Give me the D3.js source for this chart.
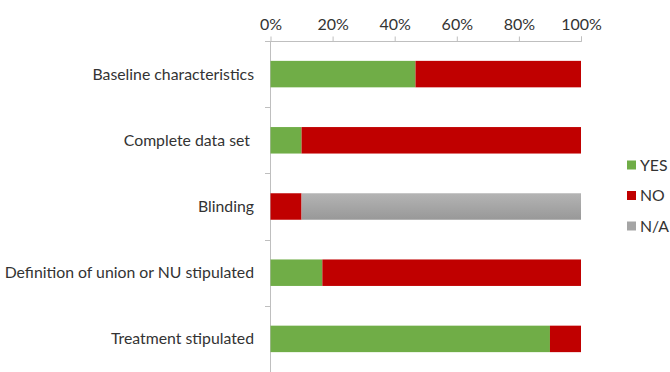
<!DOCTYPE html>
<html lang="en">
<head>
	<meta charset="utf-8">
	<title>Study quality</title>
	<script src="https://d3js.org/d3.v7.min.js"></script>
	<style>
		body { margin: 0; background: #fff; }
		text { font-family: Lato, "Open Sans", sans-serif; fill: #333; }
	</style>
</head>
<body>
	<script>
		var categories = ["Baseline characteristics", "Complete data set ", "Blinding",
			"Definition of union or NU stipulated", "Treatment stipulated"];
		var seriesNames = ["YES", "NO", "N/A"];
		var yesValues = [46.7, 10, 0, 16.7, 90];
		var noValues = [53.3, 90, 10, 83.3, 10];
		var naValues = [0, 0, 90, 0, 0];
		var tickValues = [0, 20, 40, 60, 80, 100];
		var colors = ["#70ad47", "#c00000", "#a5a5a5"];

		var width = 670;
		var height = 372;

		var svg = d3.select("body")
			.append("svg")
			.attr("width", width)
			.attr("height", height);

		// gradient for the grey N/A bar
		var grad = svg.append("defs").append("linearGradient")
			.attr("id", "gray")
			.attr("x1", 0).attr("y1", 0).attr("x2", 0).attr("y2", 1);
		grad.append("stop").attr("offset", "0%").attr("stop-color", "#b4b4b4");
		grad.append("stop").attr("offset", "100%").attr("stop-color", "#989898");

		var rows = categories.map(function(c, i) {
			return { cat: c, YES: yesValues[i], NO: noValues[i], "N/A": naValues[i] };
		});
		var stacked = d3.stack().keys(seriesNames)(rows);

		var x = d3.scaleLinear().domain([0, 100]).range([270.5, 581]);
		var y = d3.scaleBand().domain(categories).range([41, 372]).paddingInner(0.6).paddingOuter(0.3);

		// top axis
		var xAxis = svg.append("g")
			.attr("transform", "translate(0,41.5)")
			.call(d3.axisTop(x).tickValues(tickValues).tickSize(5).tickFormat(function(d) { return d + "%"; }));
		xAxis.select(".domain").attr("stroke", "#bfbfbf").attr("d", "M265,0H581.5V-5");
		xAxis.selectAll(".tick line").attr("stroke", "#bfbfbf");
		xAxis.selectAll(".tick text").attr("font-size", 16).attr("dy", "-4px").style("fill", "#333");

		// left axis line + separators between categories
		var step = y.step();
		var bounds = d3.range(1, categories.length).map(function(i) { return 41 + step * i; });
		svg.append("line")
			.attr("x1", 270.5).attr("x2", 270.5).attr("y1", 41).attr("y2", 372)
			.attr("stroke", "#bfbfbf");
		svg.selectAll(".sep")
			.data(bounds)
			.enter()
			.append("line")
			.attr("class", "sep")
			.attr("x1", 265).attr("x2", 270.5)
			.attr("y1", function(d) { return Math.round(d) + 0.5; })
			.attr("y2", function(d) { return Math.round(d) + 0.5; })
			.attr("stroke", "#bfbfbf");

		// bars
		svg.selectAll(".series")
			.data(stacked)
			.enter()
			.append("g")
			.attr("class", "series")
			.attr("fill", function(d, i) { return i === 2 ? "url(#gray)" : colors[i]; })
			.selectAll("rect")
			.data(function(d) { return d; })
			.enter()
			.append("rect")
			.attr("x", function(d) { return x(d[0]); })
			.attr("width", function(d) { return x(d[1]) - x(d[0]); })
			.attr("y", function(d) { return y(d.data.cat); })
			.attr("height", y.bandwidth());

		// category labels
		svg.selectAll(".cat")
			.data(categories)
			.enter()
			.append("text")
			.attr("class", "cat")
			.attr("x", 254)
			.attr("y", function(d) { return y(d) + y.bandwidth() / 2; })
			.attr("dy", "0.35em")
			.attr("text-anchor", "end")
			.attr("font-size", 15.8)
			.style("white-space", "pre")
			.text(function(d) { return d; });

		// legend
		var legend = svg.selectAll(".legend")
			.data(seriesNames)
			.enter()
			.append("g")
			.attr("class", "legend")
			.attr("transform", function(d, i) { return "translate(627," + (165 + i * 30.5) + ")"; });
		legend.append("rect")
			.attr("x", 0).attr("y", -4.5)
			.attr("width", 9).attr("height", 9)
			.attr("fill", function(d, i) { return colors[i]; });
		legend.append("text")
			.attr("x", 13)
			.attr("dy", "0.35em")
			.attr("font-size", 15.8)
			.text(function(d) { return d; });
	</script>
</body>
</html>
